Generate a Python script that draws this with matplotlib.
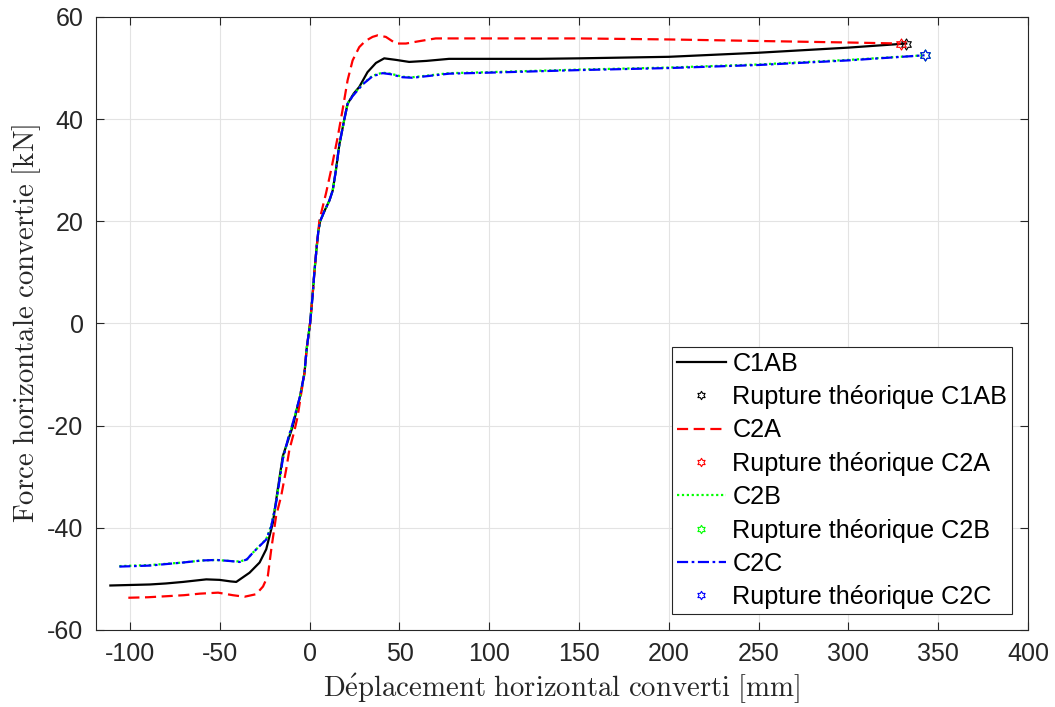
import matplotlib
matplotlib.use("Agg")
import matplotlib.pyplot as plt
from matplotlib.path import Path

plt.rcParams['font.family'] = ['Liberation Sans', 'DejaVu Sans']
plt.rcParams['mathtext.fontset'] = 'cm'
plt.rcParams['axes.unicode_minus'] = False

# C1AB
c1ab_x = [-111, -100, -89, -80, -70.5, -57.6, -50.2, -44, -40.9, -33.5, -27.9, -24.2, -20.5, -17.8, -15,
          -11.3, -9.4, -5.4, -2.9, -1.7, 0.2, 1.5, 2.6, 3.9, 4.8, 5.8, 8.2, 10.9, 12.8, 14.6, 16.5, 19.3,
          21.1, 24.5, 27.6, 32.2, 36.9, 41.5, 48, 55.4, 65, 77.6, 100, 127.6, 150, 200, 250, 300, 332.2]
c1ab_y = [-51.3, -51.2, -51.1, -50.9, -50.6, -50.1, -50.2, -50.5, -50.6, -48.8, -46.8, -44.2, -39, -32.5, -26,
          -22.1, -20.1, -14.3, -9.7, -5, 0, 5, 10, 15, 18, 20, 22, 24, 26, 30, 35, 40,
          43, 45, 46.3, 49.2, 51, 51.9, 51.6, 51.2, 51.4, 51.8, 51.8, 51.8, 51.9, 52.2, 53.0, 54.0, 54.8]

# C2A
c2a_x = [-101, -90, -79.8, -70, -61.3, -51, -42.8, -36.3, -29.8, -26, -23.3, -21.4, -18.7, -15.9, -13.1,
         -11.3, -8.5, -6.7, -5, -2.9, -1.7, 0.2, 1.5, 2.6, 3.9, 4.8, 5.4, 7, 9.1, 11.9, 15.6, 18.3, 21.1,
         23.9, 27.6, 31, 35, 37.8, 42.4, 48, 53.6, 60, 70.2, 85, 100, 150, 200, 250, 300, 329.1]
c2a_y = [-53.7, -53.6, -53.4, -53.2, -52.9, -52.7, -53.2, -53.5, -53.0, -51.5, -49.4, -44.2, -37.7, -33.8, -28.6,
         -24.7, -21, -18.2, -14.3, -9.7, -5, 0, 5, 10, 15, 18, 20.2, 22.5, 25.5, 30, 36.5, 41.8, 47.6,
         51.5, 54.1, 55.3, 56.1, 56.4, 56.1, 54.8, 54.8, 55.2, 55.8, 55.8, 55.8, 55.8, 55.6, 55.3, 55.0, 54.8]

# C2B
c2b_x = [-106, -89, -70.5, -60, -52, -44.6, -39, -35, -31.7, -24.2, -21.4, -18.7, -15, -12, -9.4, -7.5,
         -5.4, -2.9, -1.7, 0.2, 1.5, 2.6, 3.9, 4.8, 5.8, 8.2, 10.9, 12.8, 14.6, 16.5, 19.3, 21.1, 23.9,
         29.5, 35, 40.6, 45, 51.7, 57.2, 65, 77.6, 100, 150, 200, 250, 300, 342.4]
c2b_y = [-47.5, -47.3, -46.8, -46.4, -46.3, -46.5, -46.6, -46.2, -44.9, -42.2, -39.6, -35.0, -26.5, -22.6, -19.6, -17.1,
         -14.4, -9.8, -5, 0, 5, 10, 15, 18, 20, 22, 24, 26, 30, 35, 40, 43, 44.6,
         46.9, 48.5, 49.1, 48.9, 48.3, 48.2, 48.5, 49.0, 49.2, 49.7, 50.1, 50.7, 51.6, 52.5]

# C2C
c2c_x = [-106, -89, -70.5, -60, -52, -44.6, -39, -35, -31.7, -24.2, -21.4, -18.7, -15, -12, -9.4, -7.5,
         -5.4, -2.9, -1.7, 0.2, 1.5, 2.6, 3.9, 4.8, 5.8, 8.2, 10.9, 12.8, 14.6, 16.5, 19.3, 21.1, 23.9,
         29.5, 35, 40.6, 45, 51.7, 57.2, 65, 77.6, 100, 150, 200, 250, 300, 342.4]
c2c_y = [-47.6, -47.4, -46.8, -46.4, -46.3, -46.5, -46.7, -46.2, -44.9, -42.3, -39.7, -35.1, -26.6, -22.5, -19.5, -17,
         -14.3, -9.7, -5, 0, 5, 10, 15, 18, 20, 22, 24, 26, 30, 35, 40, 43, 44.5,
         46.8, 48.4, 49.0, 48.8, 48.2, 48.1, 48.4, 48.9, 49.1, 49.6, 50.0, 50.6, 51.5, 52.5]

# theoretical rupture points
rupt_x = [332.2, 329.1, 342.4, 342.4]
rupt_y = [54.8, 54.8, 52.5, 52.5]

names = ["C1AB", "C2A", "C2B", "C2C"]
colors = ["black", "red", "#00ff00", "blue"]

hexagram = Path.unit_regular_star(6, 0.57735)

fig = plt.figure(figsize=(10.55, 7.07), dpi=100)
ax = fig.add_axes([0.091, 0.109, 0.8834, 0.867])

curves = [(c1ab_x, c1ab_y, '-'), (c2a_x, c2a_y, (0, (5, 2.5))),
          (c2b_x, c2b_y, (0, (1, 1.2))), (c2c_x, c2c_y, (0, (5, 1.6, 1.2, 1.6)))]

for i, (xs, ys, ls) in enumerate(curves):
    ax.plot(xs, ys, linestyle=ls, color=colors[i], lw=1.6, label=names[i])
    ax.plot(rupt_x[i], rupt_y[i], linestyle='none', marker=hexagram, ms=8,
            mfc='none', mec=colors[i], mew=0.8, label="Rupture théorique " + names[i])

ax.set_xlim(-119, 400)
ax.set_ylim(-60, 60)
ax.set_xticks(range(-100, 401, 50))
ax.set_yticks(range(-60, 61, 20))
ax.grid(True, color='#e3e3e3', linewidth=0.8)
ax.set_axisbelow(True)
ax.tick_params(direction='in', length=6, width=0.8, top=True, right=True,
               labelsize=18, colors='#262626', pad=9)
for s in ax.spines.values():
    s.set_color('#262626')
    s.set_linewidth(0.8)

ax.set_xlabel(r'$\mathrm{D\acute{e}placement\ horizontal\ converti\ [mm]}$', fontsize=20.7, color='#262626', labelpad=3)
ax.set_ylabel(r'$\mathrm{Force\ horizontale\ convertie\ [kN]}$', fontsize=20.7, color='#262626', labelpad=3)

leg = ax.legend(loc='lower right', fontsize=18.2, frameon=True, fancybox=False, edgecolor='#262626',
                framealpha=1, handlelength=1.95, handletextpad=0.25, labelspacing=0.37,
                borderaxespad=0.62, borderpad=0.2)
leg.get_frame().set_linewidth(0.8)
for h in leg.legend_handles:
    h.set_markersize(6)

fig.savefig("out.png", dpi=100)
